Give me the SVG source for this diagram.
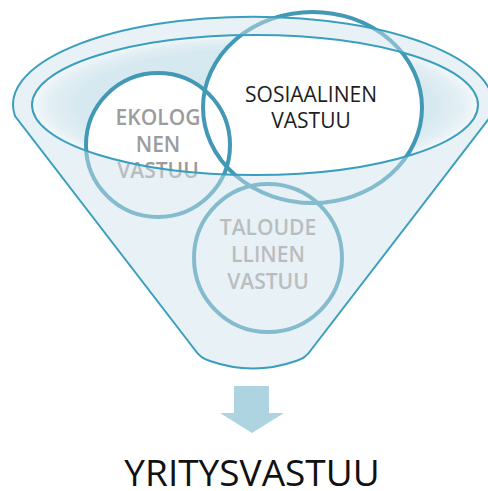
<svg xmlns="http://www.w3.org/2000/svg" width="488" height="491" viewBox="0 0 488 491">
  <defs>
    <radialGradient id="pool" cx="0.5" cy="0.5" r="0.5">
      <stop offset="0" stop-color="#d3e7ef"/>
      <stop offset="0.8" stop-color="#d7e9f0"/>
      <stop offset="0.92" stop-color="#e3eff4"/>
      <stop offset="1" stop-color="#f3f8fa"/>
    </radialGradient>
    <clipPath id="poolClip">
      <ellipse cx="255" cy="105" rx="223" ry="70"/>
    </clipPath>
  </defs>
  <style>
    .ring { fill: none; stroke: #4399b5; stroke-width: 4; }
    .outline { fill: none; stroke: #3a9fbf; stroke-width: 2; }
    .grey { font-family: "Open Sans", "Liberation Sans", sans-serif; font-size: 21px; font-weight: 600; fill: #9c9c9c; text-anchor: middle; }
    .dark { font-family: "Open Sans", "Liberation Sans", sans-serif; font-size: 21px; font-weight: 400; fill: #1e1e1e; text-anchor: middle; }
  </style>

  <g id="funnel">
    <path id="funnel-body" d="M 15 116 A 240 88 0 1 1 491 116 L 311 350 Q 306 358 296 361 Q 253 376 210 361 Q 200 358 195 350 Z" fill="#e9f2f6"/>
    <ellipse cx="255" cy="105" rx="223" ry="70" fill="url(#pool)"/>
  </g>

  <g id="fills" clip-path="url(#poolClip)">
    <circle cx="158" cy="145" r="72" fill="#ffffff"/>
    <ellipse cx="312.5" cy="107.5" rx="109.5" ry="95.5" fill="#ffffff"/>
  </g>

  <g id="ekologinen">
    <circle class="ring" cx="158" cy="145" r="72"/>
    <text class="grey" x="158" y="125">EKOLOG</text>
    <text class="grey" x="158" y="152">NEN</text>
    <text class="grey" x="158" y="178">VASTUU</text>
  </g>

  <g id="taloudellinen">
    <circle class="ring" cx="268" cy="258" r="74"/>
    <text class="grey" x="268" y="235">TALOUDE</text>
    <text class="grey" x="268" y="262">LLINEN</text>
    <text class="grey" x="268" y="289">VASTUU</text>
  </g>

  <g id="sosiaalinen">
    <ellipse class="ring" cx="312.5" cy="107.5" rx="109.5" ry="95.5"/>
    <text class="dark" x="311" y="102">SOSIAALINEN</text>
    <text class="dark" x="311" y="128">VASTUU</text>
  </g>

  <g id="funnel-front">
    <path d="M 15 116 A 240 88 0 1 1 491 116 L 311 350 Q 306 358 296 361 Q 253 376 210 361 Q 200 358 195 350 Z M 32 105 A 223 70 0 1 0 478 105 A 223 70 0 1 0 32 105 Z" fill="#e6f1f5" fill-opacity="0.4" fill-rule="evenodd"/>
    <path class="outline" d="M 15 116 A 240 88 0 1 1 491 116 L 311 350 Q 306 358 296 361 Q 253 376 210 361 Q 200 358 195 350 Z"/>
    <ellipse class="outline" cx="255" cy="105" rx="223" ry="70"/>
  </g>

  <g id="connectors">
    <path d="M 234 386 L 269 386 L 269 413 L 284 413 L 252 433 L 220 413 L 234 413 Z" fill="#add4e0"/>
  </g>

  <g id="title">
    <text x="252" y="486" font-family="'Open Sans', 'Liberation Sans', sans-serif" font-size="37" fill="#111111" text-anchor="middle">YRITYSVASTUU</text>
  </g>
</svg>
